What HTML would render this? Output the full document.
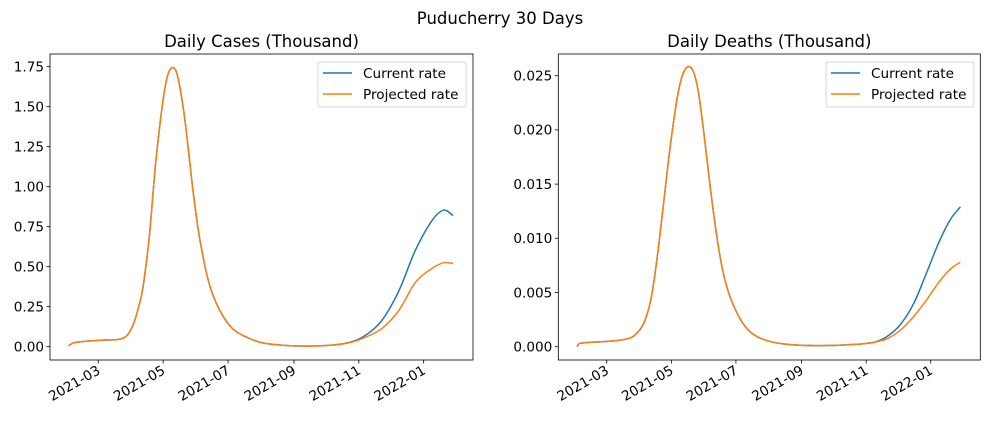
<!DOCTYPE html>
<html><head><meta charset="utf-8">
<style>
body{margin:0;background:#fff;}
svg{display:block;font-family:"DejaVu Sans","Liberation Sans",sans-serif;}
</style></head>
<body>
<svg id="fig" width="990" height="421" viewBox="0 0 990 421">
<text x="500" y="24" text-anchor="middle" font-size="16.5">Puducherry 30 Days</text>
</svg>
<script>
// day offsets from 2021-02-01
const casesDays = [0,5,30,48,55,61,66,70,76,82,88.5,93,98,102.6,109,117,123,132,142,154,170,185,217,248,266,280,295,311,326,342,353,361.6];
const casesCurrent = [0.005,0.025,0.04,0.047,0.07,0.14,0.25,0.37,0.69,1.15,1.52,1.69,1.745,1.69,1.44,0.98,0.69,0.40,0.23,0.115,0.052,0.021,0.004,0.01,0.03,0.075,0.167,0.354,0.60,0.79,0.854,0.82];
const casesProjected = [0.005,0.025,0.04,0.047,0.07,0.14,0.25,0.37,0.69,1.15,1.52,1.69,1.745,1.69,1.44,0.98,0.69,0.40,0.23,0.115,0.052,0.021,0.004,0.01,0.028,0.062,0.115,0.23,0.40,0.49,0.525,0.52];
const deathDays = [0,2,30,50,58,64,70,76,82,88,95,101,108,114,120,126,133,140,150,162,178,200,230,260,280,292,305,318,330,342,353,362];
const deathCurrent = [0,0.0003,0.0005,0.0008,0.0014,0.0024,0.0045,0.0085,0.0135,0.0185,0.0232,0.0254,0.0257,0.0238,0.0195,0.0145,0.0095,0.0060,0.0033,0.0015,0.0006,0.0002,0.0001,0.0002,0.0004,0.0009,0.0020,0.0040,0.0068,0.0097,0.0118,0.0129];
const deathProjected = [0,0.0003,0.0005,0.0008,0.0014,0.0024,0.0045,0.0085,0.0135,0.0185,0.0232,0.0254,0.0257,0.0238,0.0195,0.0145,0.0095,0.0060,0.0033,0.0015,0.0006,0.0002,0.0001,0.0002,0.0004,0.0007,0.0015,0.0028,0.0043,0.0060,0.0072,0.0078];
const xTickDays = [28,89,150,212,273,334];
const xTickLabels = ["2021-03","2021-05","2021-07","2021-09","2021-11","2022-01"];
const casesYTicks = [0,0.25,0.5,0.75,1.0,1.25,1.5,1.75];
const casesYLabels = ["0.00","0.25","0.50","0.75","1.00","1.25","1.50","1.75"];
const deathYTicks = [0,0.005,0.01,0.015,0.02,0.025];
const deathYLabels = ["0.000","0.005","0.010","0.015","0.020","0.025"];

const NS="http://www.w3.org/2000/svg";
const fig=document.getElementById('fig');
function mk(tag,attrs,parent){const e=document.createElementNS(NS,tag);for(const k in attrs)e.setAttribute(k,attrs[k]);(parent||fig).appendChild(e);return e;}
function smooth(pts){let d="M"+pts[0][0].toFixed(2)+","+pts[0][1].toFixed(2);
 for(let i=0;i<pts.length-1;i++){const p0=pts[Math.max(i-1,0)],p1=pts[i],p2=pts[i+1],p3=pts[Math.min(i+2,pts.length-1)];
  const h=p2[0]-p1[0];
  const m1=(p2[1]-p0[1])/((p2[0]-p0[0])||1), m2=(p3[1]-p1[1])/((p3[0]-p1[0])||1);
  const c1=[p1[0]+h/3,p1[1]+m1*h/3],c2=[p2[0]-h/3,p2[1]-m2*h/3];
  d+=" C"+c1[0].toFixed(2)+","+c1[1].toFixed(2)+" "+c2[0].toFixed(2)+","+c2[1].toFixed(2)+" "+p2[0].toFixed(2)+","+p2[1].toFixed(2);}
 return d;}

function panel(cfg){
 const g=mk('g',{});
 
 
 const xs=d=>cfg.x0+d*cfg.kx, ys=v=>cfg.y0-v*cfg.ky;
 const t=mk('text',{x:(cfg.left+cfg.right)/2,y:47,'text-anchor':'middle','font-size':'16.5'},g);t.textContent=cfg.title;
 
 
 cfg.yt.forEach((v,i)=>{const y=ys(v);
  mk('line',{x1:cfg.left-3.5,x2:cfg.left,y1:y,y2:y,stroke:'#000','stroke-width':0.8},g);
  const tx=mk('text',{x:cfg.left-6,y:y+4.8,'text-anchor':'end','font-size':'13.6'},g);tx.textContent=cfg.yl[i];
  
  });
 xTickDays.forEach((d,i)=>{const x=xs(d);
  mk('line',{x1:x,x2:x,y1:cfg.bottom,y2:cfg.bottom+3.5,stroke:'#000','stroke-width':0.8},g);
  const tx=mk('text',{x:x+3,y:cfg.bottom+13,'text-anchor':'end','font-size':'13.6',transform:`rotate(-30 ${x+3} ${cfg.bottom+13})`},g);tx.textContent=xTickLabels[i];
  
  });
 [[cfg.cur,'#1f77b4','current-rate-line'],[cfg.proj,'#ff7f0e','projected-rate-line']].forEach(s=>{
  const p=mk('path',{d:smooth(cfg.days.map((d,i)=>[xs(d),ys(s[0][i])])),fill:'none',stroke:s[1],'stroke-width':1.5},g);
  
  });
 const fr=mk('rect',{x:cfg.left,y:54,width:cfg.right-cfg.left,height:306,fill:'none',stroke:'#000','stroke-width':0.8},g);
 
 
 const lg=mk('g',{},g);
 
 
 mk('rect',{x:cfg.lx,y:62,width:148,height:45,rx:2,fill:'#fff','fill-opacity':0.8,stroke:'#ccc','stroke-width':0.8},lg);
 [['Current rate','#1f77b4',73],['Projected rate','#ff7f0e',94]].forEach(e=>{
  mk('line',{x1:cfg.lx+5,x2:cfg.lx+34,y1:e[2],y2:e[2],stroke:e[1],'stroke-width':1.5},lg);
  const tx=mk('text',{x:cfg.lx+45,y:e[2]+5,'font-size':'13.6'},lg);tx.textContent=e[0];
  
  });
}
panel({name:'daily-cases-chart',title:'Daily Cases (Thousand)',left:50,right:473,bottom:360,x0:68.5,kx:1.0634,y0:346.7,ky:160,
 yt:casesYTicks,yl:casesYLabels,days:casesDays,cur:casesCurrent,proj:casesProjected,lx:318});
panel({name:'daily-deaths-chart',title:'Daily Deaths (Thousand)',left:558.3,right:980.3,bottom:360,x0:577.1,kx:1.0588,y0:346.7,ky:10840,
 yt:deathYTicks,yl:deathYLabels,days:deathDays,cur:deathCurrent,proj:deathProjected,lx:826});
</script>
</body></html>
